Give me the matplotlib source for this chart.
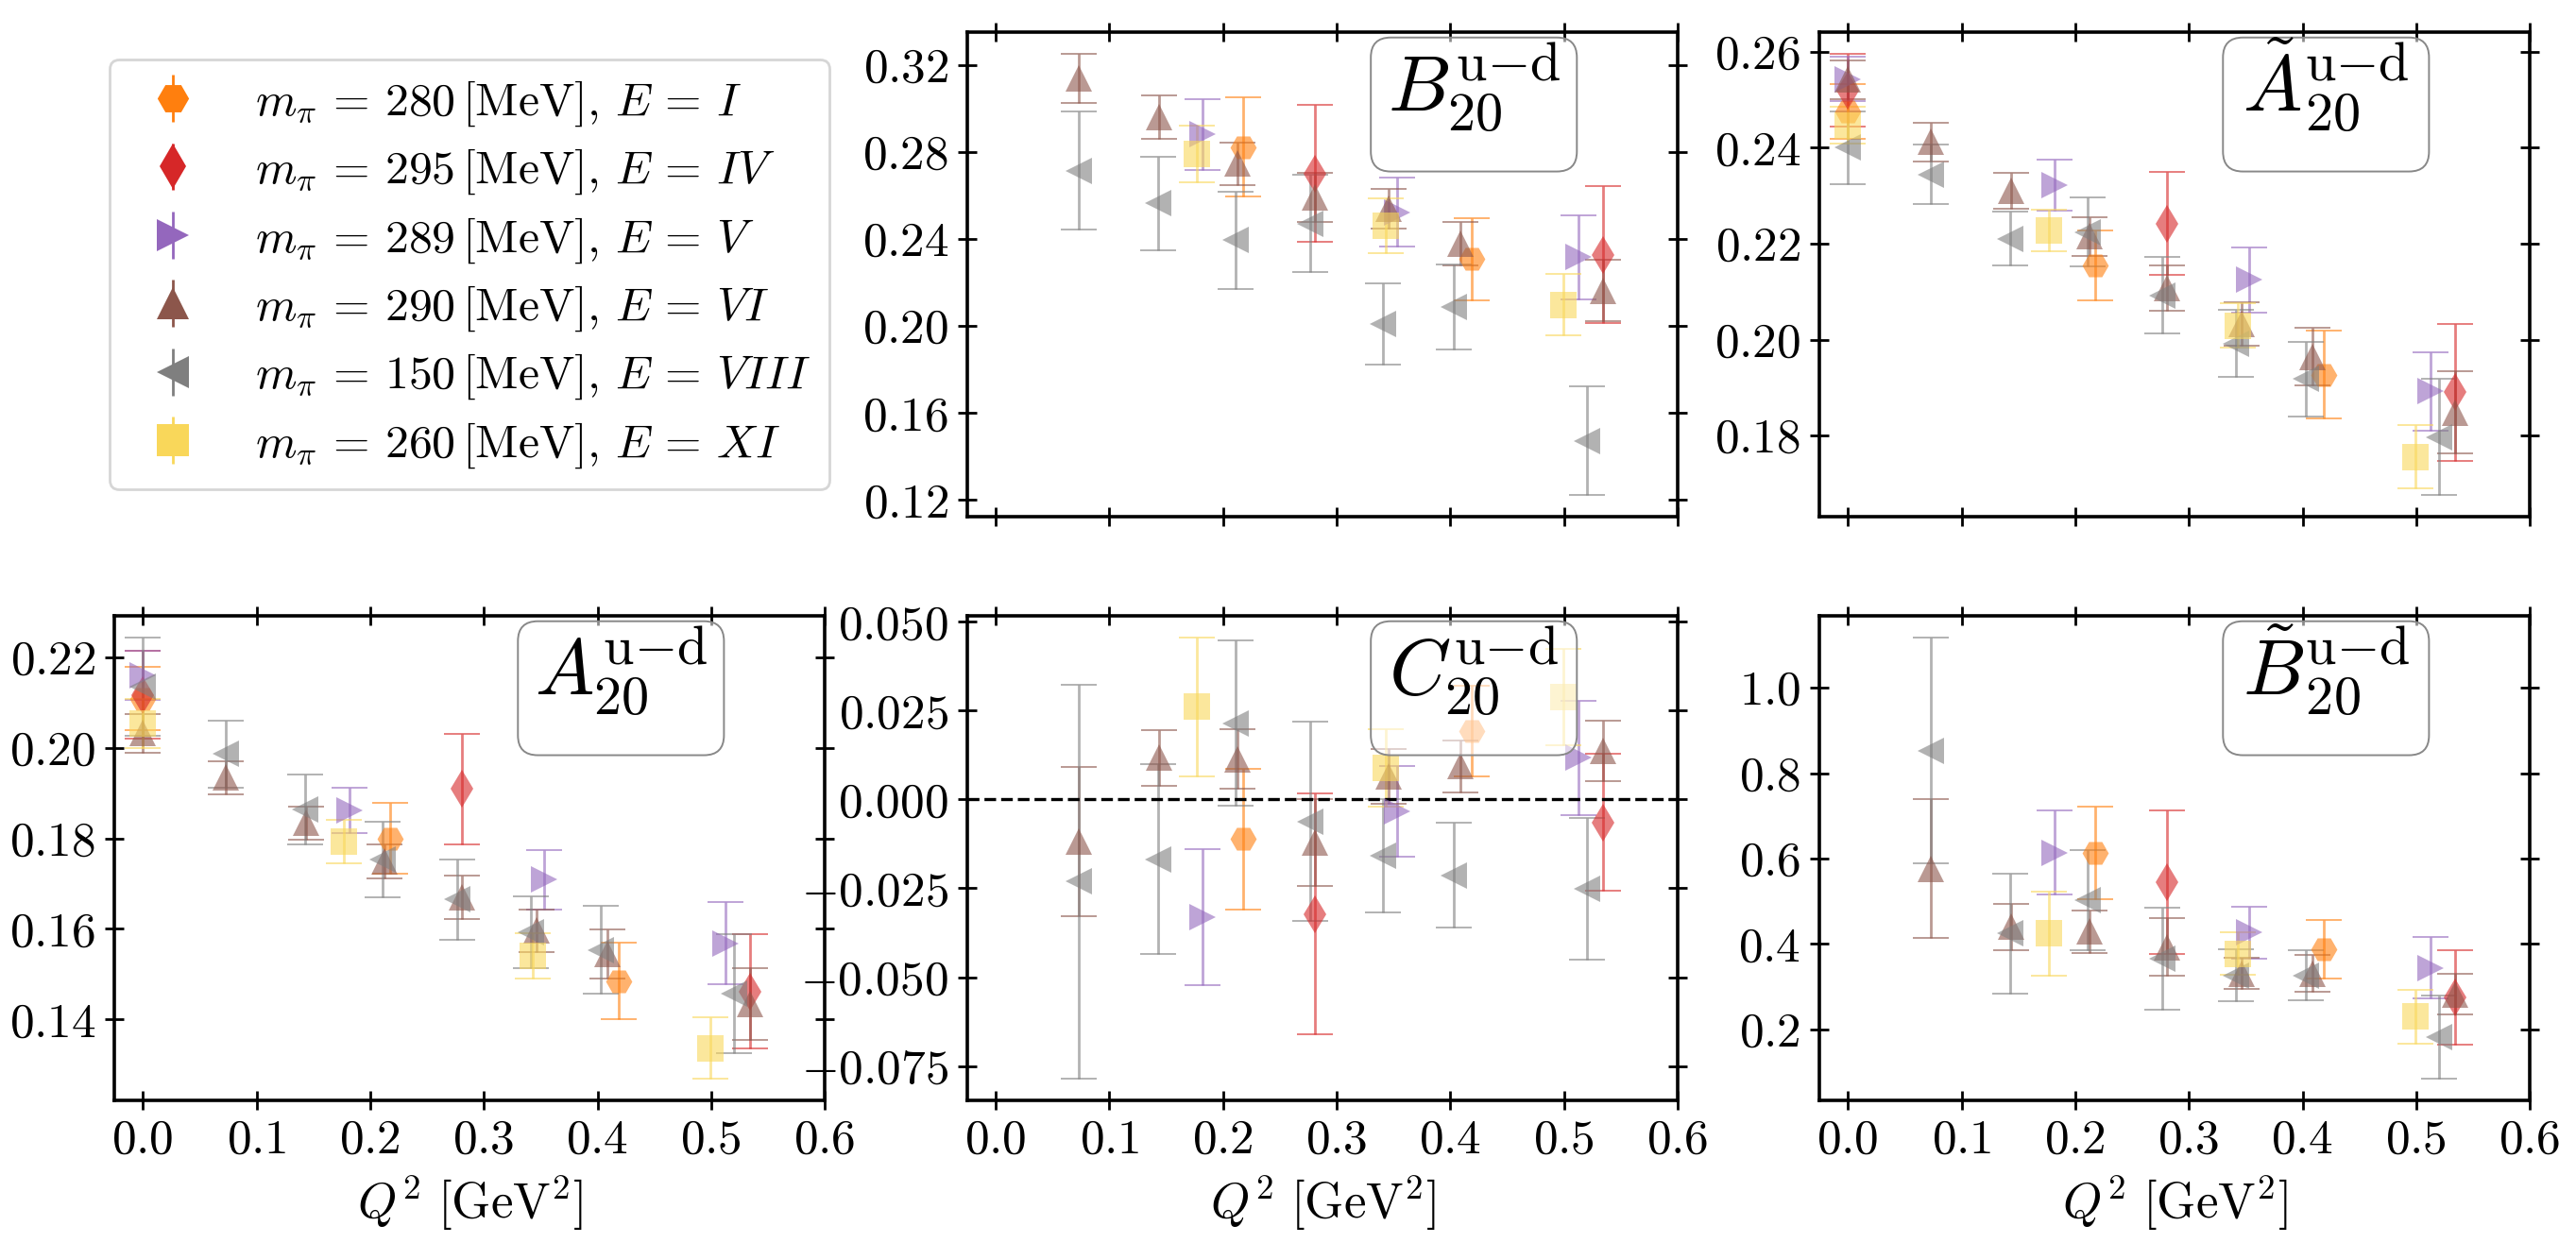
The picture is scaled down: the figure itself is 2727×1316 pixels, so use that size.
import numpy as np
import matplotlib
matplotlib.use("Agg")
import matplotlib.pyplot as plt
from matplotlib.patches import FancyBboxPatch

nan = np.nan

# ---------------- data ----------------
ensembles = ["I", "IV", "V", "VI", "VIII", "XI"]
mpi = [280, 295, 289, 290, 150, 260]
colors = ["#ff7f0e", "#d62728", "#9467bd", "#8c564b", "#7f7f7f", "#f9d75a"]
markers = ["H", "d", ">", "^", "<", "s"]

Q2_I = [0.0, 0.218, 0.419]
Q2_IV = [0.0, 0.281, 0.534]
Q2_V = [0.0, 0.182, 0.353, 0.513]
Q2_VI = [0.0, 0.073, 0.144, 0.213, 0.281, 0.346, 0.409, 0.534]
Q2_VIII = [0.0, 0.073, 0.143, 0.211, 0.277, 0.341, 0.403, 0.520]
Q2_XI = [0.0, 0.177, 0.343, 0.499]

# A20
A20_I = [0.2109, 0.1800, 0.1485]
A20_I_err = [0.0070, 0.0078, 0.0084]
A20_IV = [0.2117, 0.1909, 0.1462]
A20_IV_err = [0.0097, 0.0122, 0.0127]
A20_V = [0.2160, 0.1861, 0.1709, 0.1568]
A20_V_err = [0.0054, 0.0050, 0.0066, 0.0091]
A20_VI = [0.2032, 0.1934, 0.1834, 0.1749, 0.1670, 0.1596, 0.1545, 0.1434]
A20_VI_err = [0.0042, 0.0037, 0.0036, 0.0038, 0.0048, 0.0047, 0.0054, 0.0079]
A20_VIII = [0.2135, 0.1987, 0.1864, 0.1753, 0.1665, 0.1593, 0.1554, 0.1457]
A20_VIII_err = [0.0109, 0.0074, 0.0078, 0.0083, 0.0088, 0.0079, 0.0097, 0.0131]
A20_XI = [0.2054, 0.1793, 0.1540, 0.1337]
A20_XI_err = [0.0055, 0.0048, 0.0050, 0.0068]

# B20
B20_I = [nan, 0.2823, 0.2308]
B20_I_err = [nan, 0.0228, 0.0190]
B20_IV = [nan, 0.2702, 0.2328]
B20_IV_err = [nan, 0.0315, 0.0316]
B20_V = [nan, 0.2881, 0.2523, 0.2316]
B20_V_err = [nan, 0.0162, 0.0158, 0.0195]
B20_VI = [nan, 0.3138, 0.2959, 0.2746, 0.2590, 0.2539, 0.2378, 0.2163]
B20_VI_err = [nan, 0.0114, 0.0100, 0.0099, 0.0113, 0.0092, 0.0101, 0.0140]
B20_VIII = [nan, 0.2714, 0.2565, 0.2394, 0.2472, 0.2009, 0.2087, 0.1472]
B20_VIII_err = [nan, 0.0272, 0.0215, 0.0223, 0.0222, 0.0187, 0.0195, 0.0249]
B20_XI = [nan, 0.2792, 0.2461, 0.2098]
B20_XI_err = [nan, 0.0131, 0.0126, 0.0140]

# C20
C20_I = [nan, -0.0111, 0.0193]
C20_I_err = [nan, 0.0198, 0.0128]
C20_IV = [nan, -0.0322, -0.0064]
C20_IV_err = [nan, 0.0340, 0.0193]
C20_V = [nan, -0.0331, -0.0033, 0.0117]
C20_V_err = [nan, 0.0192, 0.0127, 0.0160]
C20_VI = [nan, -0.0119, 0.0117, 0.0114, -0.0121, 0.0064, 0.0093, 0.0137]
C20_VI_err = [nan, 0.0210, 0.0078, 0.0083, 0.0122, 0.0077, 0.0074, 0.0085]
C20_VIII = [nan, -0.0231, -0.0168, 0.0215, -0.0062, -0.0158, -0.0213, -0.0251]
C20_VIII_err = [nan, 0.0555, 0.0267, 0.0233, 0.0280, 0.0160, 0.0147, 0.0199]
C20_XI = [nan, 0.0261, 0.0090, 0.0288]
C20_XI_err = [nan, 0.0195, 0.0109, 0.0135]

# tilde A20
At20_I = [0.2476, 0.2154, 0.1927]
At20_I_err = [0.0057, 0.0073, 0.0091]
At20_IV = [0.2520, 0.2242, 0.1890]
At20_IV_err = [0.0076, 0.0107, 0.0142]
At20_V = [0.2543, 0.2322, 0.2125, 0.1892]
At20_V_err = [0.0046, 0.0054, 0.0068, 0.0082]
At20_VI = [0.2542, 0.2412, 0.2310, 0.2215, 0.2108, 0.2033, 0.1964, 0.1848]
At20_VI_err = [0.0040, 0.0041, 0.0038, 0.0041, 0.0047, 0.0045, 0.0060, 0.0086]
At20_VIII = [0.2400, 0.2344, 0.2210, 0.2224, 0.2092, 0.1992, 0.1918, 0.1797]
At20_VIII_err = [0.0075, 0.0062, 0.0056, 0.0072, 0.0080, 0.0070, 0.0078, 0.0121]
At20_XI = [0.2447, 0.2227, 0.2029, 0.1755]
At20_XI_err = [0.0039, 0.0043, 0.0046, 0.0066]

# tilde B20
Bt20_I = [nan, 0.6137, 0.3873]
Bt20_I_err = [nan, 0.109, 0.0686]
Bt20_IV = [nan, 0.545, 0.275]
Bt20_IV_err = [nan, 0.169, 0.110]
Bt20_V = [nan, 0.614, 0.4265, 0.344]
Bt20_V_err = [nan, 0.098, 0.060, 0.0716]
Bt20_VI = [nan, 0.5765, 0.440, 0.4294, 0.393, 0.331, 0.331, 0.2824]
Bt20_VI_err = [nan, 0.162, 0.055, 0.050, 0.067, 0.037, 0.043, 0.047]
Bt20_VIII = [nan, 0.853, 0.4245, 0.503, 0.3657, 0.3265, 0.3265, 0.1814]
Bt20_VIII_err = [nan, 0.265, 0.140, 0.117, 0.1187, 0.061, 0.059, 0.097]
Bt20_XI = [nan, 0.4245, 0.3775, 0.2304]
Bt20_XI_err = [nan, 0.098, 0.050, 0.063]

Q2_all = [Q2_I, Q2_IV, Q2_V, Q2_VI, Q2_VIII, Q2_XI]
panels = {
    "B20": ([B20_I, B20_IV, B20_V, B20_VI, B20_VIII, B20_XI],
            [B20_I_err, B20_IV_err, B20_V_err, B20_VI_err, B20_VIII_err, B20_XI_err]),
    "At20": ([At20_I, At20_IV, At20_V, At20_VI, At20_VIII, At20_XI],
             [At20_I_err, At20_IV_err, At20_V_err, At20_VI_err, At20_VIII_err, At20_XI_err]),
    "A20": ([A20_I, A20_IV, A20_V, A20_VI, A20_VIII, A20_XI],
            [A20_I_err, A20_IV_err, A20_V_err, A20_VI_err, A20_VIII_err, A20_XI_err]),
    "C20": ([C20_I, C20_IV, C20_V, C20_VI, C20_VIII, C20_XI],
            [C20_I_err, C20_IV_err, C20_V_err, C20_VI_err, C20_VIII_err, C20_XI_err]),
    "Bt20": ([Bt20_I, Bt20_IV, Bt20_V, Bt20_VI, Bt20_VIII, Bt20_XI],
             [Bt20_I_err, Bt20_IV_err, Bt20_V_err, Bt20_VI_err, Bt20_VIII_err, Bt20_XI_err]),
}
labels = {
    "B20": r"$B_{20}^{\mathrm{u{-}d}}$",
    "At20": r"$\tilde{A}_{20}^{\mathrm{u{-}d}}$",
    "A20": r"$A_{20}^{\mathrm{u{-}d}}$",
    "C20": r"$C_{20}^{\mathrm{u{-}d}}$",
    "Bt20": r"$\tilde{B}_{20}^{\mathrm{u{-}d}}$",
}
yticks = {
    "B20": [0.12, 0.16, 0.20, 0.24, 0.28, 0.32],
    "At20": [0.18, 0.20, 0.22, 0.24, 0.26],
    "A20": [0.14, 0.16, 0.18, 0.20, 0.22],
    "C20": [-0.075, -0.050, -0.025, 0.000, 0.025, 0.050],
    "Bt20": [0.2, 0.4, 0.6, 0.8, 1.0],
}
xticks = [0.0, 0.1, 0.2, 0.3, 0.4, 0.5, 0.6]

# ---------------- style ----------------
plt.rcParams.update({
    "font.family": "serif",
    "font.serif": ["cmr10"],
    "mathtext.fontset": "cm",
    "axes.formatter.use_mathtext": True,
    "axes.unicode_minus": True,
})

FS = 18.5
fig = plt.figure(figsize=(13.635, 6.58), dpi=200)

lefts = [0.0444, 0.3755, 0.7063]
bottoms = [0.5840, 0.1144]
W, H = 0.2758, 0.3905

layout = {(0, 1): "B20", (0, 2): "At20", (1, 0): "A20", (1, 1): "C20", (1, 2): "Bt20"}

for (r, c), key in layout.items():
    ax = fig.add_axes([lefts[c], bottoms[r], W, H])
    vals, errs = panels[key]
    for q, v, e, col, mk in zip(Q2_all, vals, errs, colors, markers):
        cont = ax.errorbar(q, v, yerr=e, fmt=mk, color=col, ms=10, alpha=0.6,
                           capsize=6.7, elinewidth=1.0, capthick=0.7)
        cont[0].set_markeredgewidth(0)
    if key == "C20":
        ax.axhline(0.0, color="k", ls="--", lw=1.2)
    ax.set_xlim(-0.025, 0.6)
    ax.set_xticks(xticks)
    ax.set_yticks(yticks[key])
    ax.tick_params(direction="inout", length=7.2, width=1.0, top=True, right=True,
                   labelsize=FS)
    for s in ax.spines.values():
        s.set_linewidth(1.3)
    if r == 0:
        ax.tick_params(labelbottom=False)
    else:
        ax.set_xlabel(r"$Q^2\ [\mathrm{GeV}^2]$", fontsize=19)
    # label box
    box = FancyBboxPatch((0.713 - 0.145, 0.712), 0.29, 0.276,
                         boxstyle="round,pad=0,rounding_size=0.028",
                         mutation_aspect=1.463, transform=ax.transAxes,
                         fc=(1, 1, 1, 0.55), ec="#888888", lw=0.7, zorder=5)
    ax.add_patch(box)
    ax.text(0.713, 0.836, labels[key], transform=ax.transAxes, ha="center",
            va="baseline", fontsize=30, zorder=6)

# legend panel
axl = fig.add_axes([lefts[0], bottoms[0], W, H])
axl.axis("off")
for ens, m, col, mk in zip(ensembles, mpi, colors, markers):
    cont = axl.errorbar([nan], [nan], yerr=[nan], fmt=mk, color=col, ms=12,
                        capsize=0, elinewidth=1.0,
                        label=r"$m_\pi \,=\, %d\,[\mathrm{MeV}],\, E \,=\, %s$" % (m, ens))
    cont[0].set_markeredgewidth(0)
axl.legend(loc="center", fontsize=17.9, labelspacing=0.4, handlelength=1.9)

fig.savefig("out.png", dpi=200)
